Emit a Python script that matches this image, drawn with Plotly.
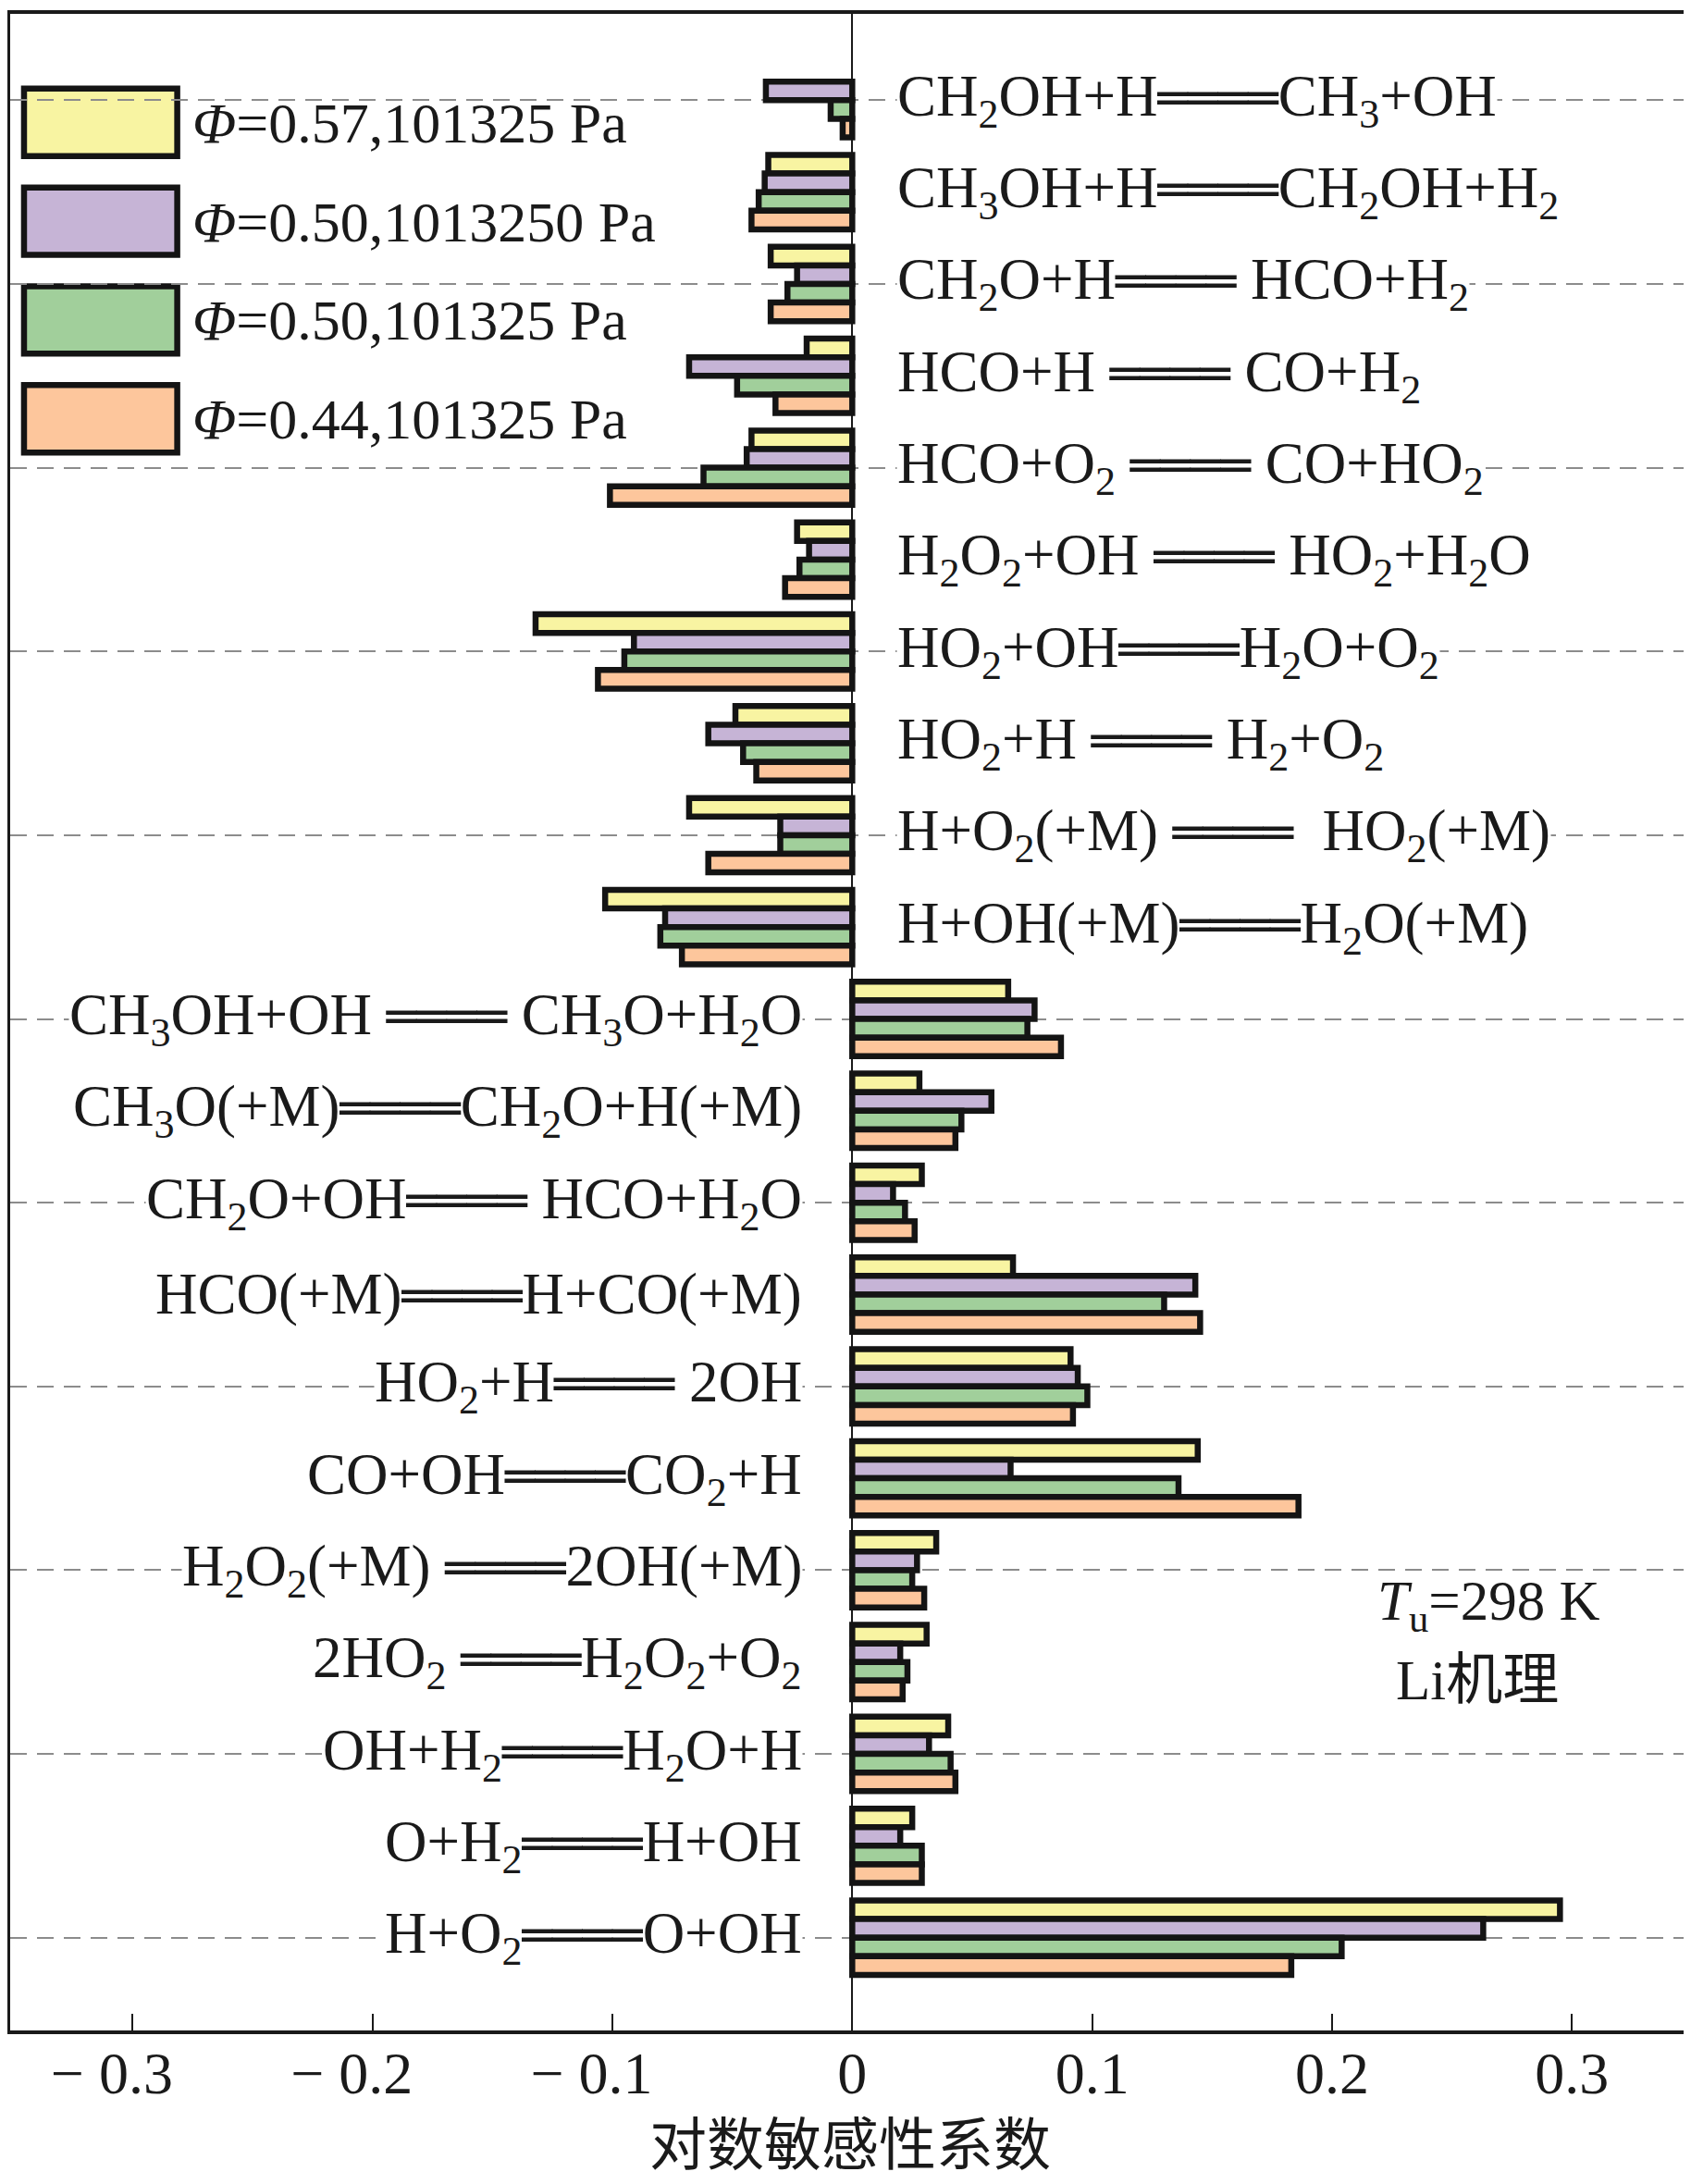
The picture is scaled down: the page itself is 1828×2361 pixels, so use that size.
import plotly.graph_objects as go

reactions = [
    "CH2OH+H=CH3+OH", "CH3OH+H=CH2OH+H2", "CH2O+H=HCO+H2", "HCO+H=CO+H2",
    "HCO+O2=CO+HO2", "H2O2+OH=HO2+H2O", "HO2+OH=H2O+O2", "HO2+H=H2+O2",
    "H+O2(+M)=HO2(+M)", "H+OH(+M)=H2O(+M)", "CH3OH+OH=CH3O+H2O",
    "CH3O(+M)=CH2O+H(+M)", "CH2O+OH=HCO+H2O", "HCO(+M)=H+CO(+M)",
    "HO2+H=2OH", "CO+OH=CO2+H", "H2O2(+M)=2OH(+M)", "2HO2=H2O2+O2",
    "OH+H2=H2O+H", "O+H2=H+OH", "H+O2=O+OH",
]

# label pieces (left of the double line, right of the double line)
lhs = ["CH<sub>2</sub>OH+H", "CH<sub>3</sub>OH+H", "CH<sub>2</sub>O+H", "HCO+H ",
       "HCO+O<sub>2</sub> ", "H<sub>2</sub>O<sub>2</sub>+OH ", "HO<sub>2</sub>+OH", "HO<sub>2</sub>+H ",
       "H+O<sub>2</sub>(+M) ", "H+OH(+M)", "CH<sub>3</sub>OH+OH ",
       "CH<sub>3</sub>O(+M)", "CH<sub>2</sub>O+OH", "HCO(+M)",
       "HO<sub>2</sub>+H", "CO+OH", "H<sub>2</sub>O<sub>2</sub>(+M) ", "2HO<sub>2</sub> ",
       "OH+H<sub>2</sub>", "O+H<sub>2</sub>", "H+O<sub>2</sub>"]
rhs = ["CH<sub>3</sub>+OH", "CH<sub>2</sub>OH+H<sub>2</sub>", " HCO+H<sub>2</sub>", " CO+H<sub>2</sub>",
       " CO+HO<sub>2</sub>", " HO<sub>2</sub>+H<sub>2</sub>O", "H<sub>2</sub>O+O<sub>2</sub>", " H<sub>2</sub>+O<sub>2</sub>",
       "  HO<sub>2</sub>(+M)", "H<sub>2</sub>O(+M)", " CH<sub>3</sub>O+H<sub>2</sub>O",
       "CH<sub>2</sub>O+H(+M)", " HCO+H<sub>2</sub>O", "H+CO(+M)",
       " 2OH", "CO<sub>2</sub>+H", "2OH(+M)", "H<sub>2</sub>O<sub>2</sub>+O<sub>2</sub>",
       "H<sub>2</sub>O+H", "H+OH", "O+OH"]

series_names = ["Φ=0.57,101325 Pa", "Φ=0.50,1013250 Pa", "Φ=0.50,101325 Pa", "Φ=0.44,101325 Pa"]
colors = ["#F8F4A2", "#C6B4D6", "#A1CF9B", "#FDC69C"]

phi057_1atm = [None, -0.035, -0.034, -0.019, -0.042, -0.023, -0.132, -0.0487, -0.068, -0.103,
               0.065, 0.028, 0.029, 0.067, 0.091, 0.144, 0.035, 0.031, 0.040, 0.025, 0.295]
phi050_10atm = [-0.036, -0.0365, -0.023, -0.068, -0.044, -0.018, -0.091, -0.060, -0.030, -0.078,
                0.076, 0.058, 0.017, 0.143, 0.094, 0.066, 0.027, 0.020, 0.032, 0.020, 0.263]
phi050_1atm = [-0.009, -0.039, -0.027, -0.048, -0.062, -0.022, -0.095, -0.0455, -0.030, -0.080,
               0.073, 0.0455, 0.022, 0.130, 0.098, 0.136, 0.025, 0.023, 0.041, 0.029, 0.204]
phi044_1atm = [-0.004, -0.042, -0.034, -0.032, -0.101, -0.028, -0.106, -0.040, -0.060, -0.071,
               0.087, 0.043, 0.026, 0.145, 0.092, 0.186, 0.030, 0.021, 0.043, 0.029, 0.183]
series_values = [phi057_1atm, phi050_10atm, phi050_1atm, phi044_1atm]

tick_vals = [-0.3, -0.2, -0.1, 0, 0.1, 0.2, 0.3]
PAD = "\u2002\u2009"
tick_text = ["− 0.3" + PAD, "− 0.2" + PAD, "− 0.1" + PAD, "0", "0.1", "0.2", "0.3"]
x_title = "对数敏感性系数"

FONT = "Liberation Serif, Noto Sans CJK SC, serif"
INK = "#1a1a1a"
EQ = '<span style="font-family:DejaVu Sans;font-size:54px">════</span>'

fig = go.Figure()
for name, vals, col in zip(series_names, series_values, colors):
    fig.add_trace(go.Bar(
        x=vals, y=reactions, orientation="h", name=name,
        marker=dict(color=col, line=dict(color="#141414", width=6.5)),
        showlegend=False,
    ))

annotations = []
for i, r in enumerate(reactions):
    txt = lhs[i] + EQ + rhs[i]
    if phi050_10atm[i] < 0:
        annotations.append(dict(x=0.0185, y=r, xref="x", yref="y", text=txt,
                                xanchor="left", yanchor="middle", showarrow=False,
                                bgcolor="white", borderpad=0,
                                font=dict(family=FONT, size=63, color=INK)))
    else:
        annotations.append(dict(x=-0.0205, y=r, xref="x", yref="y", text=txt,
                                xanchor="right", yanchor="middle", showarrow=False,
                                bgcolor="white", borderpad=0,
                                font=dict(family=FONT, size=63, color=INK)))

# custom legend with large swatches
W, H = 1828, 2361
ml, mr, mt, mb = 3, 3, 3, 174
pw, ph = W - ml - mr, H - mt - mb

def px_x(x):
    return (x - ml) / pw

def px_y(y):
    return 1 - (y - mt) / ph

shapes = []
leg_tops = [84, 191, 298, 405]
for name, col, top in zip(series_names, colors, leg_tops):
    shapes.append(dict(type="rect", xref="paper", yref="paper",
                       x0=px_x(18), x1=px_x(184), y0=px_y(top + 73), y1=px_y(top),
                       fillcolor=col, line=dict(color="#141414", width=6.5), layer="below"))
    annotations.append(dict(x=px_x(198), y=px_y(top + 37), xref="paper", yref="paper",
                            text="<i>Φ</i>" + name[1:], xanchor="left", yanchor="middle",
                            showarrow=False, font=dict(family=FONT, size=62, color=INK)))

annotations.append(dict(x=0.2655, y=px_y(1726), xref="x", yref="paper",
                        text="<i>T</i><sub>u</sub>=298 K", showarrow=False,
                        xanchor="center", yanchor="middle",
                        font=dict(family=FONT, size=61, color=INK)))
annotations.append(dict(x=0.2605, y=px_y(1808), xref="x", yref="paper",
                        text="Li机理", showarrow=False,
                        xanchor="center", yanchor="middle",
                        font=dict(family=FONT, size=61, color=INK)))
annotations.append(dict(x=-0.001, y=px_y(2312), xref="x", yref="paper",
                        text=x_title, showarrow=False,
                        xanchor="center", yanchor="middle",
                        font=dict(family=FONT, size=62, color=INK)))

fig.update_layout(
    width=W, height=H,
    margin=dict(l=ml, r=mr, t=mt, b=mb),
    paper_bgcolor="white", plot_bgcolor="white",
    barmode="group", bargap=0.19, bargroupgap=0,
    annotations=annotations, shapes=shapes,
    font=dict(family=FONT, size=60, color=INK),
    xaxis=dict(
        range=[-0.351, 0.35], tickvals=tick_vals, ticktext=tick_text,
        ticks="inside", ticklen=18, tickwidth=2, tickcolor=INK,
        showgrid=False, zeroline=True, zerolinecolor=INK, zerolinewidth=2,
        showline=True, linecolor=INK, linewidth=4, mirror=True,
        tickfont=dict(family=FONT, size=64, color=INK),
        ticklabelstandoff=-13,
    ),
    yaxis=dict(
        type="category", categoryorder="array", categoryarray=reactions,
        range=[21.01, -0.94], tickvals=reactions[::2], showticklabels=False,
        ticks="", showgrid=True, griddash="18px,11px", gridcolor="#8c8c8c", gridwidth=2,
        showline=True, linecolor=INK, linewidth=4, mirror=True, zeroline=False,
    ),
)

fig.write_html("out.html")
